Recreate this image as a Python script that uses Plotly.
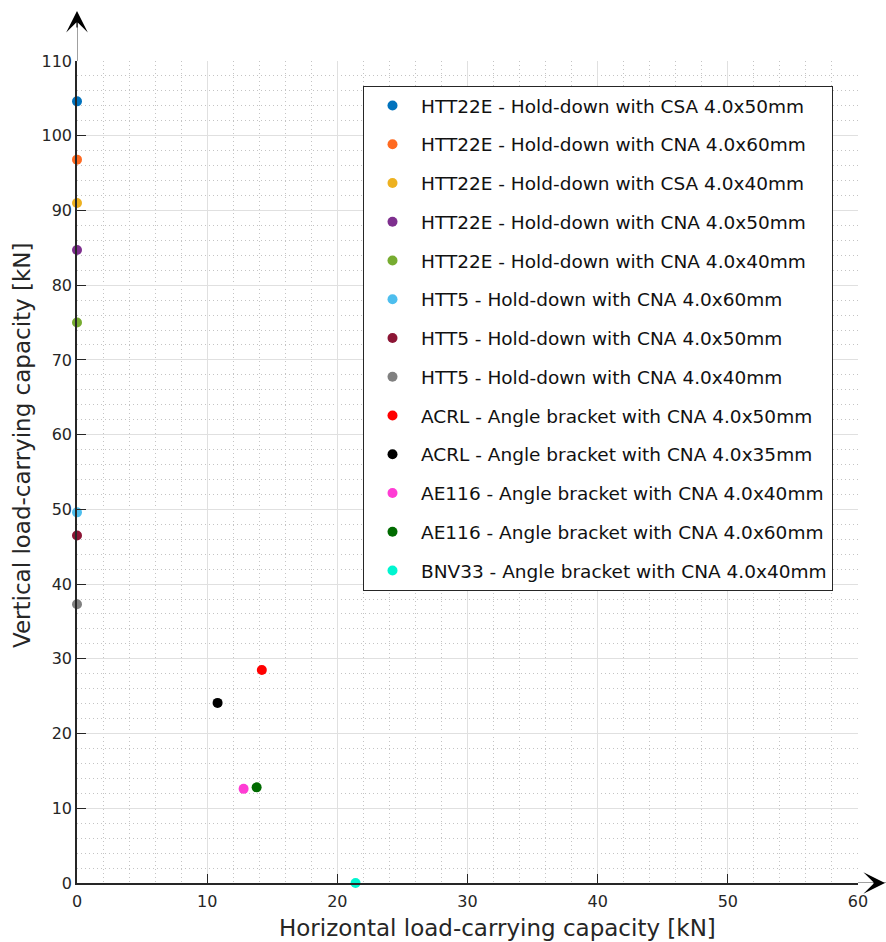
import plotly.graph_objects as go

names = [
    "HTT22E - Hold-down with CSA 4.0x50mm",
    "HTT22E - Hold-down with CNA 4.0x60mm",
    "HTT22E - Hold-down with CSA 4.0x40mm",
    "HTT22E - Hold-down with CNA 4.0x50mm",
    "HTT22E - Hold-down with CNA 4.0x40mm",
    "HTT5 - Hold-down with CNA 4.0x60mm",
    "HTT5 - Hold-down with CNA 4.0x50mm",
    "HTT5 - Hold-down with CNA 4.0x40mm",
    "ACRL - Angle bracket with CNA 4.0x50mm",
    "ACRL - Angle bracket with CNA 4.0x35mm",
    "AE116 - Angle bracket with CNA 4.0x40mm",
    "AE116 - Angle bracket with CNA 4.0x60mm",
    "BNV33 - Angle bracket with CNA 4.0x40mm",
]
horizontal_kN = [0, 0, 0, 0, 0, 0, 0, 0, 14.2, 10.8, 12.8, 13.8, 21.4]
vertical_kN = [104.6, 96.8, 91.0, 84.7, 75.0, 49.6, 46.5, 37.3, 28.5, 24.1, 12.6, 12.8, 0]
colors = ["#0072BD", "#FF6A21", "#EDB120", "#7E2F8E", "#77AC30", "#4DBEEE", "#8C1535",
          "#808080", "#FF0000", "#000000", "#FF3CD4", "#006B00", "#00F5D0"]

x_ticks = [0, 10, 20, 30, 40, 50, 60]
y_ticks = [0, 10, 20, 30, 40, 50, 60, 70, 80, 90, 100, 110]

FONT = "DejaVu Sans"
AX = "#262626"

fig = go.Figure()
for i, (n, xv, yv, c) in enumerate(zip(names, horizontal_kN, vertical_kN, colors)):
    fig.add_trace(go.Scatter(
        x=[xv], y=[yv], mode="markers", name=n, legendgroup=str(i),
        marker=dict(color=c, size=10, line=dict(width=0)),
        cliponaxis=False,
    ))

axis_common = dict(
    showline=True, linecolor=AX, linewidth=1.5,
    ticks="inside", ticklen=9, tickcolor=AX, tickwidth=1,
    showgrid=True, gridcolor="#e0e0e0", gridwidth=1,
    zeroline=False,
    tickfont=dict(family=FONT, size=16, color=AX),
    layer="above traces",
)
minor_grid = dict(dtick=2, showgrid=True, griddash="1px,3px", gridcolor="#c4c4c4", gridwidth=1)

fig.update_xaxes(range=[0, 60], tickvals=x_ticks, minor=minor_grid, ticklabelstandoff=3, **axis_common)
fig.update_yaxes(range=[0, 110], tickvals=y_ticks, minor=minor_grid, **axis_common)

# axis extensions and arrowheads
fig.add_shape(type="line", xref="x", yref="paper", x0=0, x1=0, y0=1, y1=1.05,
              line=dict(color="#808080", width=1.5))
fig.add_shape(type="line", xref="paper", yref="y", x0=1, x1=1.05, y0=0, y1=0,
              line=dict(color="#808080", width=1.5))
fig.add_annotation(xref="x", yref="paper", x=0, y=1.0608, axref="pixel", ayref="pixel",
                   ax=0, ay=18, text="", showarrow=True, arrowhead=3, arrowsize=3.0,
                   arrowwidth=1.2, arrowcolor="#000000", standoff=0)
fig.add_annotation(xref="paper", yref="y", x=1.046, y=0, axref="pixel", ayref="pixel",
                   ax=-18, ay=0, text="", showarrow=True, arrowhead=3, arrowsize=3.0,
                   arrowwidth=1.2, arrowcolor="#000000", standoff=0)

# axis titles
fig.add_annotation(xref="paper", yref="paper", x=(497 - 77) / 781, y=-(928 - 883) / 822,
                   text="Horizontal load-carrying capacity [kN]", showarrow=False,
                   font=dict(family=FONT, size=23, color=AX), xanchor="center", yanchor="middle")
fig.add_annotation(xref="paper", yref="paper", x=-(77 - 22) / 781, y=(883 - 446) / 822,
                   text="Vertical load-carrying capacity [kN]", showarrow=False, textangle=-90,
                   font=dict(family=FONT, size=23, color=AX), xanchor="center", yanchor="middle")

fig.update_layout(
    width=886, height=942,
    margin=dict(l=77, r=28, t=61, b=59),
    paper_bgcolor="white", plot_bgcolor="white",
    showlegend=True,
    legend=dict(
        x=(363 - 77) / 781, y=(883 - 86) / 822, xanchor="left", yanchor="top",
        bgcolor="white", bordercolor=AX, borderwidth=1,
        font=dict(family=FONT, size=18.5, color="#111111"),
        traceorder="grouped", tracegroupgap=11.7, itemwidth=47,
    ),
)

fig.write_html("out.html")
